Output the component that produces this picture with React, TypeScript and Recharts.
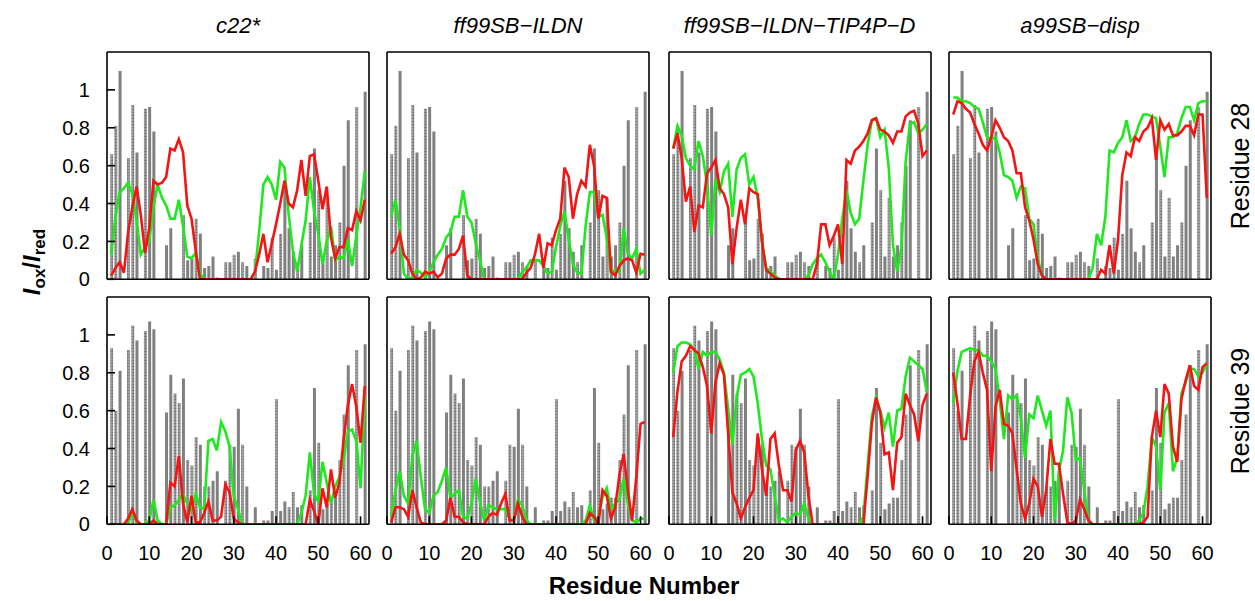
import React from "react";
import { ComposedChart, Bar, Line, XAxis, YAxis, Cell } from "recharts";

// residue numbers along the x axis
const RESIDUES = [
  1, 2, 3, 4, 5, 6, 7, 8, 9, 10, 11, 12, 13, 14, 15, 16, 17, 18, 19, 20,
  21, 22, 23, 24, 25, 26, 27, 28, 29, 30, 31, 32, 33, 34, 35, 36, 37, 38, 39, 40,
  41, 42, 43, 44, 45, 46, 47, 48, 49, 50, 51, 52, 53, 54, 55, 56, 57, 58, 59, 60, 61,
];

// experimental PRE ratios (gray bars), spin label at residue 28
const EXP_28 = [
  0.66, 0.81, 1.1, 0, 0.64, 0.92, 0.67, 0, 0.9, 0.91, 0.78, 0, 0, 0.18, 0.27, 0, 0, 0.34, 0.1, 0.11,
  0.32, 0.24, 0.06, 0.07, 0.12, 0.01, 0, 0.09, 0.09, 0.13, 0.145, 0.09, 0.07, 0, 0.11, 0, 0.07, 0.06, 0.22, 0.05,
  0.24, 0.52, 0.27, 0.145, 0.09, 0.18, 0, 0.3, 0.69, 0.47, 0.12, 0.43, 0.12, 0.18, 0.3, 0.6, 0.84, 0, 0.91, 0, 0.99,
];
const DOTTED_28 = [
  1, 1, 0, 0, 1, 1, 0, 0, 1, 0, 0, 0, 0, 0, 0, 0, 0, 1, 0, 0,
  1, 0, 0, 0, 0, 0, 0, 1, 0, 1, 0, 1, 0, 0, 1, 0, 0, 0, 1, 0,
  1, 0, 0, 0, 1, 0, 0, 1, 0, 1, 0, 1, 0, 0, 1, 0, 0, 0, 1, 0, 0,
];

// experimental PRE ratios, spin label at residue 39
const EXP_39 = [
  0.93, 0.6, 0.81, 0, 0.92, 1.05, 0.97, 0, 1.02, 1.07, 1.03, 0, 0, 0.59, 0.79, 0.69, 0.64, 0.77, 0.34, 0.31,
  0.46, 0.42, 0.2, 0.2, 0.23, 0.28, 0, 0.23, 0.42, 0.41, 0.61, 0.42, 0.2, 0, 0.09, 0, 0.02, 0.02, 0.07, 0.66,
  0.07, 0.12, 0.09, 0.17, 0.09, 0.1, 0, 0.18, 0.72, 0.43, 0.08, 0.11, 0.14, 0.14, 0.34, 0.58, 0.84, 0, 0.92, 0, 0.95,
];
const DOTTED_39 = [
  1, 1, 0, 0, 1, 1, 0, 0, 1, 0, 0, 0, 0, 0, 0, 1, 1, 0, 1, 1,
  1, 0, 1, 1, 0, 0, 0, 1, 1, 0, 0, 1, 0, 0, 0, 0, 0, 0, 0, 1,
  0, 0, 1, 1, 0, 0, 0, 1, 0, 1, 0, 0, 1, 0, 1, 1, 0, 0, 1, 0, 0,
];

// simulated ratios, residue 28
const RED_C22_28 = [
  0.02, 0.06, 0.09, 0.035, 0.25, 0.38, 0.49, 0.34, 0.14, 0.27, 0.52, 0.5, 0.51, 0.54, 0.69, 0.68, 0.74, 0.67, 0.39, 0.32,
  0.15, 0, 0, 0, 0, 0, 0, 0, 0, 0, 0, 0, 0, 0, 0.04, 0.13, 0.24, 0.09, 0.19, 0.29,
  0.4, 0.52, 0.4, 0.38, 0.47, 0.63, 0.44, 0.65, 0.66, 0.52, 0.37, 0.49, 0.22, 0.11, 0.17, 0.17, 0.27, 0.26, 0.36, 0.31, 0.42,
];
const GREEN_C22_28 = [
  0.13, 0.33, 0.46, 0.48, 0.51, 0.45, 0.31, 0.13, 0.17, 0.2, 0.38, 0.5, 0.43, 0.39, 0.32, 0.32, 0.42, 0.28, 0.12, 0.11,
  0.14, 0.03, 0, 0, 0, 0, 0, 0, 0, 0, 0, 0, 0, 0, 0.035, 0.25, 0.5, 0.54, 0.5, 0.42,
  0.62, 0.59, 0.34, 0.15, 0.04, 0.18, 0.31, 0.54, 0.36, 0.24, 0.08, 0.2, 0.28, 0.1, 0.12, 0.11, 0.21, 0.07, 0.23, 0.38, 0.57,
];
const RED_ILDN_28 = [
  0.135, 0.17, 0.24, 0.13, 0.1, 0.03, 0, 0.01, 0.04, 0.03, 0.04, 0.01, 0.03, 0.11, 0.13, 0.13, 0.16, 0.23, 0.02, 0,
  0, 0, 0, 0, 0, 0, 0, 0, 0, 0, 0, 0, 0.035, 0.06, 0.13, 0.24, 0.06, 0.19, 0.18, 0.26,
  0.32, 0.59, 0.54, 0.32, 0.45, 0.52, 0.49, 0.71, 0.6, 0.32, 0.44, 0.43, 0.04, 0.02, 0.07, 0.1, 0.11, 0.1, 0.035, 0.135, 0.13,
];
const GREEN_ILDN_28 = [
  0.33, 0.42, 0.27, 0.03, 0, 0.01, 0.05, 0.035, 0.01, 0.04, 0.09, 0.13, 0.16, 0.22, 0.25, 0.33, 0.33, 0.47, 0.33, 0.3,
  0.19, 0.1, 0, 0, 0, 0, 0, 0, 0, 0, 0, 0.04, 0.06, 0.1, 0.1, 0.1, 0.07, 0.03, 0.04, 0.17,
  0.28, 0.36, 0.21, 0.08, 0.035, 0.03, 0.28, 0.46, 0.46, 0.33, 0.34, 0.22, 0.035, 0.05, 0.04, 0.27, 0.135, 0.11, 0.16, 0.03, 0.05,
];
const RED_TIP4PD_28 = [
  0.69, 0.77, 0.64, 0.41, 0.49, 0.25, 0.39, 0.38, 0.56, 0.59, 0.63, 0.48, 0.45, 0.38, 0.08, 0.27, 0.42, 0.29, 0.48, 0.46,
  0.45, 0.2, 0.05, 0.03, 0.01, 0, 0, 0, 0, 0, 0, 0, 0, 0, 0.08, 0.29, 0.29, 0.18, 0.23, 0.29,
  0.08, 0.63, 0.61, 0.68, 0.7, 0.73, 0.77, 0.84, 0.85, 0.79, 0.78, 0.76, 0.72, 0.78, 0.78, 0.86, 0.88, 0.89, 0.82, 0.65, 0.68,
];
const GREEN_TIP4PD_28 = [
  0.69, 0.81, 0.76, 0.64, 0.6, 0.58, 0.73, 0.65, 0.5, 0.23, 0.53, 0.46, 0.57, 0.61, 0.33, 0.58, 0.64, 0.66, 0.5, 0.54,
  0.43, 0.2, 0.06, 0.04, 0.02, 0, 0, 0, 0, 0, 0, 0, 0.02, 0.08, 0.11, 0.13, 0.09, 0.04, 0, 0.13,
  0.32, 0.47, 0.35, 0.29, 0.32, 0.52, 0.71, 0.84, 0.85, 0.75, 0.79, 0.59, 0.18, 0.04, 0.17, 0.62, 0.82, 0.83, 0.77, 0.79, 0.82,
];
const RED_DISP_28 = [
  0.87, 0.94, 0.93, 0.9, 0.88, 0.82, 0.77, 0.71, 0.68, 0.75, 0.84, 0.8, 0.75, 0.73, 0.68, 0.56, 0.56, 0.38, 0.31, 0.21,
  0.08, 0.02, 0, 0, 0, 0, 0, 0, 0, 0, 0, 0, 0, 0, 0, 0.05, 0.03, 0.18, 0.03, 0.21,
  0.55, 0.67, 0.65, 0.75, 0.73, 0.78, 0.8, 0.85, 0.63, 0.84, 0.79, 0.82, 0.76, 0.76, 0.78, 0.81, 0.81, 0.76, 0.87, 0.87, 0.43,
];
const GREEN_DISP_28 = [
  0.96, 0.96, 0.94, 0.94, 0.93, 0.91, 0.9, 0.83, 0.75, 0.74, 0.75, 0.67, 0.55, 0.54, 0.52, 0.43, 0.49, 0.48, 0.32, 0.29,
  0.11, 0.02, 0, 0, 0, 0, 0, 0, 0, 0, 0, 0, 0, 0.06, 0.24, 0.18, 0.33, 0.68, 0.67, 0.72,
  0.75, 0.84, 0.73, 0.75, 0.82, 0.87, 0.87, 0.86, 0.85, 0.7, 0.54, 0.75, 0.75, 0.77, 0.85, 0.91, 0.91, 0.84, 0.93, 0.94, 0.94,
];

// simulated ratios, residue 39
const RED_C22_39 = [
  0, 0, 0, 0, 0.03, 0.08, 0.02, 0, 0, 0, 0.02, 0, 0, 0, 0.22, 0.2, 0.36, 0.11, 0.01, 0.15,
  0.01, 0.01, 0.06, 0.12, 0.02, 0.02, 0.04, 0.21, 0.17, 0.03, 0.01, 0, 0, 0, 0, 0, 0, 0, 0, 0,
  0, 0, 0, 0, 0, 0, 0, 0.13, 0.07, 0, 0.19, 0.09, 0.29, 0.14, 0.22, 0.45, 0.63, 0.74, 0.62, 0.43, 0.73,
];
const GREEN_C22_39 = [
  0, 0, 0, 0, 0, 0.07, 0.01, 0, 0, 0.02, 0.13, 0.02, 0, 0, 0.09, 0.1, 0.13, 0.16, 0.11, 0.07,
  0.16, 0.09, 0.08, 0.44, 0.45, 0.39, 0.54, 0.49, 0.41, 0.15, 0.08, 0, 0, 0, 0, 0, 0, 0, 0, 0,
  0, 0, 0, 0, 0, 0.06, 0.15, 0.38, 0.16, 0.12, 0.33, 0.22, 0.11, 0.2, 0.25, 0.34, 0.49, 0.5, 0.44, 0.19, 0.68,
];
const RED_ILDN_39 = [
  0.01, 0.09, 0.09, 0.08, 0.04, 0.18, 0.09, 0.01, 0, 0, 0, 0, 0, 0.02, 0.14, 0.04, 0.04, 0.01, 0, 0,
  0, 0, 0, 0.04, 0.06, 0.05, 0.11, 0.16, 0.02, 0.02, 0.11, 0.04, 0, 0, 0, 0, 0, 0, 0, 0,
  0, 0, 0, 0, 0, 0, 0, 0.06, 0.04, 0, 0.18, 0.15, 0.03, 0.09, 0.26, 0.37, 0.18, 0.02, 0.25, 0.53, 0.54,
];
const GREEN_ILDN_39 = [
  0.04, 0.18, 0.28, 0.15, 0.11, 0.36, 0.44, 0.25, 0.08, 0.06, 0.15, 0.17, 0.23, 0.3, 0.14, 0.16, 0.18, 0.04, 0.03, 0.11,
  0.24, 0.12, 0.02, 0.1, 0.09, 0.08, 0.08, 0.08, 0.03, 0.02, 0.13, 0.1, 0.02, 0, 0, 0, 0, 0, 0, 0,
  0, 0, 0, 0, 0, 0, 0.02, 0.1, 0.02, 0.04, 0.14, 0.19, 0.08, 0.11, 0.13, 0.24, 0.11, 0.02, 0.01, 0.03, 0.03,
];
const RED_TIP4PD_39 = [
  0.46, 0.7, 0.86, 0.89, 0.94, 0.92, 0.9, 0.83, 0.73, 0.48, 0.75, 0.85, 0.79, 0.48, 0.17, 0.11, 0.03, 0.09, 0.14, 0.18,
  0.48, 0.29, 0.15, 0.45, 0.48, 0.31, 0.18, 0.18, 0.12, 0.39, 0.44, 0.38, 0.15, 0, 0, 0, 0, 0, 0, 0,
  0, 0, 0, 0, 0, 0, 0.25, 0.53, 0.67, 0.59, 0.37, 0.38, 0.18, 0.43, 0.46, 0.69, 0.63, 0.58, 0.44, 0.63, 0.69,
];
const GREEN_TIP4PD_39 = [
  0.8, 0.94, 0.96, 0.96, 0.95, 0.92, 0.82, 0.91, 0.89, 0.91, 0.91, 0.87, 0.8, 0.61, 0.42, 0.67, 0.79, 0.8, 0.82, 0.78,
  0.64, 0.45, 0.31, 0.29, 0.15, 0.02, 0.03, 0.01, 0.04, 0.06, 0.05, 0.11, 0.03, 0, 0, 0, 0, 0, 0, 0,
  0, 0, 0, 0, 0, 0.04, 0.31, 0.57, 0.67, 0.6, 0.51, 0.59, 0.41, 0.6, 0.61, 0.78, 0.88, 0.86, 0.84, 0.82, 0.7,
];
const RED_DISP_39 = [
  0.8, 0.64, 0.45, 0.45, 0.68, 0.86, 0.91, 0.8, 0.71, 0.28, 0.62, 0.71, 0.53, 0.52, 0.48, 0.29, 0.11, 0.03, 0.11, 0.24,
  0.2, 0.04, 0.18, 0.45, 0.32, 0.32, 0.16, 0.01, 0, 0.02, 0.13, 0.08, 0.02, 0, 0, 0, 0, 0, 0, 0,
  0, 0, 0, 0, 0, 0.01, 0.04, 0.46, 0.6, 0.46, 0.74, 0.69, 0.41, 0.33, 0.66, 0.76, 0.84, 0.73, 0.71, 0.83, 0.85,
];
const GREEN_DISP_39 = [
  0.64, 0.81, 0.91, 0.92, 0.93, 0.92, 0.92, 0.89, 0.89, 0.86, 0.82, 0.66, 0.45, 0.68, 0.66, 0.68, 0.56, 0.35, 0.58, 0.56,
  0.68, 0.6, 0.52, 0.6, 0.02, 0.28, 0.39, 0.67, 0.59, 0.34, 0.35, 0.18, 0.02, 0, 0, 0, 0, 0, 0, 0,
  0, 0, 0, 0, 0.02, 0.06, 0.2, 0.46, 0.41, 0.18, 0.59, 0.64, 0.28, 0.35, 0.69, 0.75, 0.82, 0.82, 0.78, 0.8, 0.85,
];

const TITLES = ["c22*", "ff99SB\u2212ILDN", "ff99SB\u2212ILDN\u2212TIP4P\u2212D", "a99SB\u2212disp"];
const ROW_LABELS = ["Residue 28", "Residue 39"];
const X_TICKS = [0, 10, 20, 30, 40, 50, 60];
const X_TICKS_TOP = [10, 20, 30, 40, 50];
const Y_TICKS = [0, 0.2, 0.4, 0.6, 0.8, 1];

const ROWS = [
  { exp: EXP_28, dotted: DOTTED_28, red: [RED_C22_28, RED_ILDN_28, RED_TIP4PD_28, RED_DISP_28], green: [GREEN_C22_28, GREEN_ILDN_28, GREEN_TIP4PD_28, GREEN_DISP_28] },
  { exp: EXP_39, dotted: DOTTED_39, red: [RED_C22_39, RED_ILDN_39, RED_TIP4PD_39, RED_DISP_39], green: [GREEN_C22_39, GREEN_ILDN_39, GREEN_TIP4PD_39, GREEN_DISP_39] },
];

// layout
const PLOT_LEFT = [107, 387, 668.5, 949];
const PLOT_TOP = [52.3, 297.3];
const PLOT_W = 262;
const PLOT_H = 227.3;
const AX_L = 50;
const AX_R = 10;
const AX_T = 10;
const AX_B = 50;

const FONT = "'Liberation Sans', Arial, Helvetica, sans-serif";
const RED = "#f51414";
const GREEN = "#1ee81e";
const BAR_GRAY = "#808080";

const frame = { stroke: "#000", strokeWidth: 1.6 };
const tickText = { fill: "#000", fontSize: 20, fontFamily: FONT };

function buildRows(row: number, col: number) {
  const r = ROWS[row];
  return RESIDUES.map((res, i) => ({
    res,
    exp: r.exp[i],
    dotted: r.dotted[i],
    red: r.red[col][i],
    green: r.green[col][i],
  }));
}

function Panel({ row, col }: { row: number; col: number }) {
  const data = buildRows(row, col);
  const showX = row === 1;
  const showY = col === 0;
  return (
    <div style={{ position: "absolute", left: PLOT_LEFT[col] - AX_L, top: PLOT_TOP[row] - AX_T }}>
      <ComposedChart
        width={AX_L + PLOT_W + AX_R}
        height={AX_T + PLOT_H + AX_B}
        data={data}
        margin={{ top: 0, right: 0, bottom: 0, left: 0 }}
      >
        <XAxis
          xAxisId="b"
          type="number"
          dataKey="res"
          domain={[0, 62]}
          allowDataOverflow
          ticks={X_TICKS}
          interval={0}
          height={AX_B}
          tickSize={-8}
          tickMargin={30}
          axisLine={frame}
          tickLine={frame}
          tick={showX ? tickText : false}
        />
        <XAxis
          xAxisId="t"
          orientation="top"
          type="number"
          domain={[0, 62]}
          allowDataOverflow
          ticks={X_TICKS_TOP}
          interval={0}
          height={AX_T}
          tickSize={-8}
          axisLine={frame}
          tickLine={frame}
          tick={false}
        />
        <YAxis
          yAxisId="l"
          type="number"
          domain={[0, 1.2]}
          allowDataOverflow
          ticks={Y_TICKS}
          interval={0}
          width={AX_L}
          tickSize={-8}
          tickMargin={25}
          axisLine={frame}
          tickLine={frame}
          tick={showY ? tickText : false}
        />
        <YAxis
          yAxisId="r"
          orientation="right"
          type="number"
          domain={[0, 1.2]}
          allowDataOverflow
          ticks={Y_TICKS}
          interval={0}
          width={AX_R}
          tickSize={-8}
          axisLine={frame}
          tickLine={frame}
          tick={false}
        />
        <Bar dataKey="exp" xAxisId="b" yAxisId="l" barSize={3} isAnimationActive={false}>
          {data.map((d, i) => (
            <Cell key={i} fill={d.dotted ? "url(#dotfill)" : BAR_GRAY} />
          ))}
        </Bar>
        <Line
          type="linear"
          dataKey="green"
          xAxisId="b"
          yAxisId="l"
          stroke={GREEN}
          strokeWidth={2.6}
          dot={false}
          isAnimationActive={false}
        />
        <Line
          type="linear"
          dataKey="red"
          xAxisId="b"
          yAxisId="l"
          stroke={RED}
          strokeWidth={2.6}
          dot={false}
          isAnimationActive={false}
        />
      </ComposedChart>
    </div>
  );
}

export default function App() {
  return (
    <div
      style={{
        position: "absolute",
        left: 0,
        top: 0,
        width: 1255,
        height: 601,
        background: "#fff",
        overflow: "hidden",
        fontFamily: FONT,
      }}
    >
      <svg width={0} height={0} style={{ position: "absolute" }}>
        <defs>
          <pattern id="dotfill" width="3" height="3" patternUnits="userSpaceOnUse">
            <rect width="3" height="3" fill="#a6a6a6" />
            <circle cx="1.5" cy="1.5" r="1.1" fill="#6f6f6f" />
          </pattern>
        </defs>
      </svg>

      {[0, 1].map((row) => [0, 1, 2, 3].map((col) => <Panel key={`${row}-${col}`} row={row} col={col} />))}

      <svg
        width={1255}
        height={601}
        style={{ position: "absolute", left: 0, top: 0, pointerEvents: "none" }}
        fontFamily={FONT}
      >
        {TITLES.map((t, i) => (
          <text key={t} x={PLOT_LEFT[i] + PLOT_W / 2} y={33} textAnchor="middle" fontSize={22} fontStyle="italic" fill="#000">
            {t}
          </text>
        ))}
        {ROW_LABELS.map((t, i) => (
          <text
            key={t}
            x={1249}
            y={PLOT_TOP[i] + PLOT_H / 2}
            transform={`rotate(-90 1249 ${PLOT_TOP[i] + PLOT_H / 2})`}
            textAnchor="middle"
            fontSize={25}
            fill="#000"
          >
            {t}
          </text>
        ))}
        <text x={40} y={262} transform="rotate(-90 40 262)" textAnchor="middle" fontSize={24} fontWeight="bold" fill="#000">
          <tspan fontStyle="italic">I</tspan>
          <tspan fontSize={17} dy={5}>ox</tspan>
          <tspan dy={-5}>/</tspan>
          <tspan fontStyle="italic">I</tspan>
          <tspan fontSize={17} dy={5}>red</tspan>
        </text>
        <text x={644} y={594} textAnchor="middle" fontSize={24} fontWeight="bold" fill="#000">
          Residue Number
        </text>
      </svg>
    </div>
  );
}
